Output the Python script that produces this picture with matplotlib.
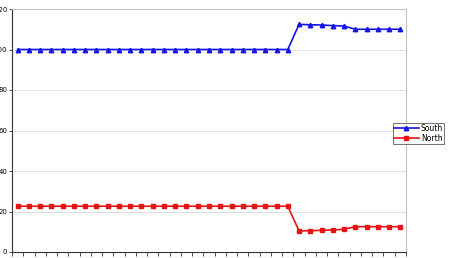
import matplotlib
matplotlib.use("Agg")
import matplotlib.pyplot as plt
import numpy as np

# series values, one per category (35 categories, no labels)
south = [100.0] * 25 + [112.4, 112.2, 112.1, 111.8, 111.6,
                        110.0, 110.0, 110.0, 110.0, 110.0]
north = [22.6] * 25 + [10.4, 10.5, 10.7, 10.9, 11.2,
                       12.5, 12.5, 12.5, 12.5, 12.5]
y_ticks = [0, 20, 40, 60, 80, 100, 120]

x = np.arange(len(south))

fig = plt.figure(figsize=(4.51, 2.58), dpi=100)
ax = fig.add_axes([12 / 451, 6 / 258, 394 / 451, 243 / 258])

ax.plot(x, south, color="#1414e6", lw=1.2, marker="^", ms=3.2,
        label="South", zorder=3)
ax.plot(x, north, color="#e61414", lw=1.2, marker="s", ms=2.8,
        label="North", zorder=3)

ax.set_xlim(-0.5, len(south) - 0.5)
ax.set_ylim(0, 120)
ax.set_yticks(y_ticks)
ax.set_xticks(np.arange(-0.5, len(south)), labels=[])
ax.tick_params(axis="x", length=3, width=0.6, color="#333333")
ax.tick_params(axis="y", length=2, width=0.6, color="#333333",
               labelsize=5, pad=1.5)
ax.grid(axis="y", color="#d9d9d9", lw=0.6)
ax.set_axisbelow(True)

for side in ("top", "right"):
    ax.spines[side].set_color("#c0c0c0")
    ax.spines[side].set_linewidth(0.8)
for side in ("left", "bottom"):
    ax.spines[side].set_color("#333333")
    ax.spines[side].set_linewidth(0.8)

leg = fig.legend(loc="upper left", bbox_to_anchor=(393 / 451, 1 - 123 / 258),
                 fontsize=5.5, frameon=True, fancybox=False, handlelength=3.2,
                 borderpad=0.15, labelspacing=0.1, handletextpad=0.3,
                 borderaxespad=0)
leg.get_frame().set_edgecolor("#333333")
leg.get_frame().set_linewidth(0.6)

fig.savefig("out.png", dpi=100)
